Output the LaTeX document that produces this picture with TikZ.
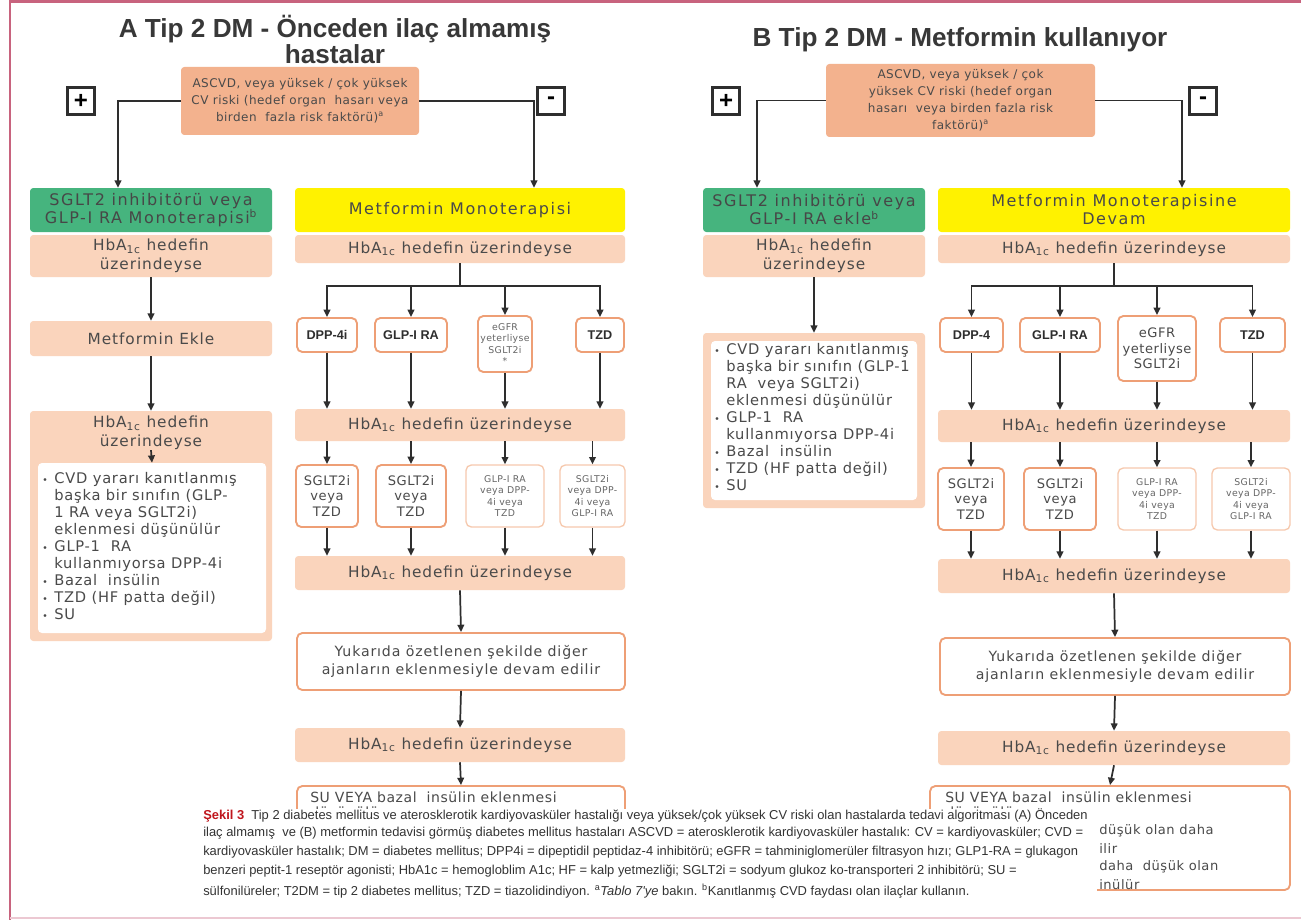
\documentclass[tikz,border=0pt]{standalone}
\usepackage{fontspec}
\setmainfont{DejaVu Sans}
\newfontfamily\boxf{DejaVu Sans}[LetterSpace=4]
\newfontfamily\hbf{DejaVu Sans}[LetterSpace=6]
\newfontfamily\widef{DejaVu Sans}[LetterSpace=10]
\newfontfamily\listf{DejaVu Sans}[LetterSpace=5]
\newfontfamily\headf{Liberation Sans}
\newfontfamily\capf{Liberation Sans}
\usetikzlibrary{arrows.meta}

\definecolor{framec}{HTML}{C8637E}
\definecolor{ascf}{HTML}{F3B28E}
\definecolor{hbfill}{HTML}{FAD4BC}
\definecolor{bord}{HTML}{EE9F76}
\definecolor{bordl}{HTML}{F6C9AE}
\definecolor{grnf}{HTML}{46B47E}
\definecolor{yelf}{HTML}{FFF200}
\definecolor{txt}{HTML}{4A4A4A}
\definecolor{lnc}{HTML}{2E2E2E}
\definecolor{capred}{HTML}{C0161D}
\definecolor{captxt}{HTML}{333333}

% box placed by its corners (pixel grid, y downwards)
\newcommand{\place}[7]{%
  \node[#2, minimum width={((#5)-(#3))*0.75pt}, minimum height={((#6)-(#4))*0.75pt}]
    (#1) at ({((#3)+(#5))/2},{((#4)+(#6))/2}) {#7};}
\newcommand{\blt}{{\fontsize{7}{7}\selectfont\textbullet}}
\newcommand{\hba}{HbA\textsubscript{1c}}

\begin{document}
\begin{tikzpicture}[x=0.75pt,y=-0.75pt,
  bx/.style={rectangle, rounded corners=2.5pt, inner sep=0pt, align=center, text=txt,
             font=\hbf\fontsize{11.5}{14.2}\selectfont},
  asc/.style={bx, fill=ascf, font=\boxf\fontsize{9}{12.8}\selectfont},
  hb/.style={bx, fill=hbfill},
  grn/.style={bx, fill=grnf, text=black!72, font=\widef\fontsize{12}{13.5}\selectfont},
  yel/.style={bx, fill=yelf, font=\widef\fontsize{12}{13.5}\selectfont},
  wb/.style={bx, fill=white, draw=bord, line width=1.4pt, rounded corners=4pt},
  wbl/.style={wb, draw=bordl, line width=1pt},
  wfill/.style={bx, fill=white, rounded corners=3pt},
  lbl/.style={font=\headf\bfseries\fontsize{9.5}{11}\selectfont, text=lnc},
  sm/.style={font=\boxf\fontsize{7}{8.4}\selectfont, text=black!60},
  mid/.style={font=\boxf\fontsize{9.8}{11.6}\selectfont},
  yuk/.style={font=\hbf\fontsize{10.6}{13.4}\selectfont},
  ln/.style={draw=lnc, line width=1.3pt},
  arr/.style={ln, -{Triangle[length=5.5pt,width=5pt]}},
  pm/.style={draw=lnc, line width=2pt, fill=white, minimum size=20pt, inner sep=0pt,
             font=\headf\bfseries\fontsize{18}{18}\selectfont},
  ttl/.style={font=\headf\bfseries\fontsize{19.6}{22}\selectfont, text=black!78},
  captext/.style={anchor=west, inner sep=0pt, font=\capf\fontsize{9.7}{11}\selectfont, text=captxt},
  txtl/.style={anchor=west, inner sep=0pt, text=txt, font=\boxf\fontsize{10.5}{13}\selectfont},
  frag/.style={txtl, font=\boxf\fontsize{9.8}{12}\selectfont},
  listtxt/.style={anchor=north west, inner sep=0pt, text=txt, align=left,
             font=\listf\fontsize{11}{12.8}\selectfont}
]
\useasboundingbox (0,0) rectangle (1301,920);
\fill[white] (0,0) rectangle (1301,920);

% page frame
\draw[framec, line width=2.2pt] (10,0) -- (10,920);
\draw[framec, line width=2pt] (10,1.5) -- (1301,1.5);
\draw[framec!35, line width=1pt] (10,918) -- (1301,918);

% ---------------- titles
\node[ttl] (tA1) at (335,29) {A Tip 2 DM - Önceden ilaç almamış};
\node[ttl] (tA2) at (335,54) {hastalar};
\node[ttl] (tB) at (960,40) {B Tip 2 DM - Metformin kullanıyor};

% ---------------- risk boxes and branches
\place{ascA}{asc}{181}{67}{419}{135}{ASCVD, veya yüksek / çok yüksek\\CV riski (hedef organ\ \ hasarı veya\\birden\ \ fazla risk faktörü)\textsuperscript{a}}
\place{ascB}{asc}{826}{64}{1095}{137}{ASCVD, veya yüksek / çok\\yüksek CV riski (hedef organ\\hasarı\ \ veya birden fazla risk\\faktörü)\textsuperscript{a}}

\node[pm] (plA) at (81,101) {+};
\node[pm] (miA) at (551,101) {-};
\node[pm] (plB) at (726,101) {+};
\node[pm] (miB) at (1203,101) {-};

\place{gA}{grn}{30}{188}{272}{232}{SGLT2 inhibitörü veya\\GLP-I RA Monoterapisi\textsuperscript{b}}
\place{yA}{yel}{295}{188}{625}{232}{Metformin Monoterapisi}
\place{gB}{grn}{703}{188}{925}{232}{SGLT2 inhibitörü veya\\GLP-I RA ekle\textsuperscript{b}}
\place{yB}{yel}{938}{188}{1290}{232}{Metformin Monoterapisine\\Devam}

\draw[arr] (ascA.west) -| (gA.north -| 118,0);
\draw[arr] (ascA.east) -| (yA.north -| 534,0);
\draw[arr] (ascB.west) -| (gB.north -| 757,0);
\draw[arr] (ascB.east) -| (yB.north -| 1182,0);

% ================= panel A, left column
\place{hAl1}{hb}{30}{235}{272}{277}{\hba\ hedefin\\üzerindeyse}
\place{mEk}{hb}{30}{321}{272}{356}{Metformin Ekle}
\place{hAl2}{hb}{30}{411}{272}{641}{}
\node[bx] (hAl2t) at (151,433) {\hba\ hedefin\\üzerindeyse};
\place{lstAbox}{wfill}{38}{463}{266}{633}{}
\node[listtxt] (lstA) at (42,471) {\begin{tabular}{@{}l@{\hspace{5pt}}l@{}}
\blt & CVD yararı kanıtlanmış\\
 & başka bir sınıfın (GLP-\\
 & 1 RA veya SGLT2i)\\
 & eklenmesi düşünülür\\
\blt & GLP-1\ \ RA\\
 & kullanmıyorsa DPP-4i\\
\blt & Bazal\ \ insülin\\
\blt & TZD (HF patta değil)\\
\blt & SU
\end{tabular}};
\draw[arr] (hAl1.south) -- (mEk.north);
\draw[arr] (mEk.south) -- (hAl2.north);
\draw[arr] (hAl2t.south) -- (lstAbox.north);

% ================= panel A, right column
\place{hAr1}{hb}{295}{235}{625}{263}{\hba\ hedefin üzerindeyse}
\place{dA}{wb,lbl}{297}{318}{357}{352}{DPP-4i}
\place{gpA}{wb,lbl}{375}{318}{447}{352}{GLP-I RA}
\place{eA}{wb,sm}{478}{316}{532}{372}{eGFR\\yeterliyse\\SGLT2i\\*}
\place{tA}{wb,lbl}{576}{318}{624}{352}{TZD}
\coordinate (brA) at (460,286);
\draw[ln] (hAr1.south) -- (brA);
\draw[arr] (brA) -| (dA.north);
\draw[arr] (brA) -| (tA.north);
\draw[arr] (gpA.north |- brA) -- (gpA.north);
\draw[arr] (eA.north |- brA) -- (eA.north);

\place{hAr2}{hb}{295}{409}{625}{441}{\hba\ hedefin üzerindeyse}
\foreach \n in {dA,gpA,eA,tA} \draw[arr] (\n.south) -- (\n.south |- hAr2.north);

\place{sA1}{wb,mid}{296}{465}{358}{527}{SGLT2i\\veya\\TZD}
\place{sA2}{wb,mid}{376}{465}{446}{527}{SGLT2i\\veya\\TZD}
\place{sA3}{wbl,sm}{466}{465}{544}{527}{GLP-I RA\\veya DPP-\\4i veya\\TZD}
\place{sA4}{wbl,sm}{560}{465}{625}{527}{SGLT2i\\veya DPP-\\4i veya\\GLP-I RA}
\foreach \n in {sA1,sA2,sA3,sA4} \draw[arr] (\n.north |- hAr2.south) -- (\n.north);

\place{hAr3}{hb}{295}{556}{625}{590}{\hba\ hedefin üzerindeyse}
\foreach \n in {sA1,sA2,sA3,sA4} \draw[arr] (\n.south) -- (\n.south |- hAr3.north);

\place{yukA}{wb,yuk}{297}{633}{625}{690}{Yukarıda özetlenen şekilde diğer\\ajanların eklenmesiyle devam edilir}
\place{hAr4}{hb}{295}{728}{625}{762}{\hba\ hedefin üzerindeyse}
\place{suA}{wb}{297}{786}{625}{905}{}
\node[txtl] (suAt1) at (310,797) {SU VEYA bazal\ \ insülin eklenmesi};
\draw[arr] (hAr3.south) -- (yukA.north);
\draw[arr] (yukA.south) -- (hAr4.north);
\draw[arr] (hAr4.south) -- (suA.north);

% ================= panel B, left column
\place{hBl1}{hb}{703}{235}{925}{277}{\hba\ hedefin\\üzerindeyse}
\place{hBl2}{hb}{703}{333}{925}{508}{}
\place{lstBbox}{wfill}{711}{341}{917}{500}{}
\node[listtxt] (lstB) at (714,342) {\begin{tabular}{@{}l@{\hspace{5pt}}l@{}}
\blt & CVD yararı kanıtlanmış\\
 & başka bir sınıfın (GLP-1\\
 & RA\ \ veya SGLT2i)\\
 & eklenmesi düşünülür\\
\blt & GLP-1\ \ RA\\
 & kullanmıyorsa DPP-4i\\
\blt & Bazal\ \ insülin\\
\blt & TZD (HF patta değil)\\
\blt & SU
\end{tabular}};
\draw[arr] (hBl1.south) -- (hBl2.north);

% ================= panel B, right column
\place{hBr1}{hb}{938}{235}{1290}{263}{\hba\ hedefin üzerindeyse}
\place{dB}{wb,lbl}{940}{318}{1003}{352}{DPP-4}
\place{gpB}{wb,lbl}{1020}{318}{1100}{352}{GLP-I RA}
\place{eB}{wb,mid}{1118}{316}{1196}{381}{eGFR\\yeterliyse\\SGLT2i}
\place{tB}{wb,lbl}{1220}{318}{1285}{352}{TZD}
\coordinate (brB) at (1114,286);
\draw[ln] (hBr1.south) -- (brB);
\draw[arr] (brB) -| (dB.north);
\draw[arr] (brB) -| (tB.north);
\draw[arr] (gpB.north |- brB) -- (gpB.north);
\draw[arr] (eB.north |- brB) -- (eB.north);

\place{hBr2}{hb}{938}{410}{1290}{442}{\hba\ hedefin üzerindeyse}
\foreach \n in {dB,gpB,eB,tB} \draw[arr] (\n.south) -- (\n.south |- hBr2.north);

\place{sB1}{wb,mid}{938}{468}{1004}{530}{SGLT2i\\veya\\TZD}
\place{sB2}{wb,mid}{1024}{468}{1096}{530}{SGLT2i\\veya\\TZD}
\place{sB3}{wbl,sm}{1118}{468}{1196}{530}{GLP-I RA\\veya DPP-\\4i veya\\TZD}
\place{sB4}{wbl,sm}{1212}{468}{1290}{530}{SGLT2i\\veya DPP-\\4i veya\\GLP-I RA}
\foreach \n in {sB1,sB2,sB3,sB4} \draw[arr] (\n.north |- hBr2.south) -- (\n.north);

\place{hBr3}{hb}{938}{559}{1290}{593}{\hba\ hedefin üzerindeyse}
\foreach \n in {sB1,sB2,sB3,sB4} \draw[arr] (\n.south) -- (\n.south |- hBr3.north);

\place{yukB}{wb,yuk}{940}{638}{1290}{695}{Yukarıda özetlenen şekilde diğer\\ajanların eklenmesiyle devam edilir}
\place{hBr4}{hb}{938}{731}{1290}{765}{\hba\ hedefin üzerindeyse}
\place{suB}{wb}{930}{786}{1290}{890}{}
\node[txtl] (suBt1) at (945,797) {SU VEYA bazal\ \ insülin eklenmesi};
\node[frag] (suBf1) at (1099,831) {düşük olan daha};
\node[frag] (suBf2) at (1099,849) {ilir};
\node[frag] (suBf3) at (1099,867) {daha\ \ düşük olan};
\node[frag] (suBf4) at (1099,885) {inülür};
\draw[arr] (hBr3.south) -- (yukB.north);
\draw[arr] (yukB.south) -- (hBr4.north);
\draw[arr] (hBr4.south) -- (suB.north);

% second line of both bottom boxes, cut off by the caption panel
\begin{scope}
  \clip (0,0) rectangle (1301,809);
  \node[txtl] (suAt2) at (310,814) {düşünülür;};
  \node[txtl] (suBt2) at (945,814) {düşünülür;};
\end{scope}

% ================= caption panel
\place{capbox}{fill=white, inner sep=0pt}{190}{809}{1097}{913}{}
\node[captext] (c1) at (203,815) {{\color{capred}\bfseries Şekil 3}\ \ Tip 2 diabetes mellitus ve aterosklerotik kardiyovasküler hastalığı veya yüksek/çok yüksek CV riski olan hastalarda tedavi algoritması (A) Önceden};
\node[captext] (c2) at (203,833) {ilaç almamış\ \ ve (B) metformin tedavisi görmüş diabetes mellitus hastaları ASCVD = aterosklerotik kardiyovasküler hastalık: CV = kardiyovasküler; CVD =};
\node[captext] (c3) at (203,852) {kardiyovasküler hastalık; DM = diabetes mellitus; DPP4i = dipeptidil peptidaz-4 inhibitörü; eGFR = tahminiglomerüler filtrasyon hızı; GLP1-RA = glukagon};
\node[captext] (c4) at (203,871) {benzeri peptit-1 reseptör agonisti; HbA1c = hemogloblim A1c; HF = kalp yetmezliği; SGLT2i = sodyum glukoz ko-transporteri 2 inhibitörü; SU =};
\node[captext] (c5) at (203,891) {sülfonilüreler; T2DM = tip 2 diabetes mellitus; TZD = tiazolidindiyon. \textsuperscript{a}\textit{Tablo 7'ye} bakın. \textsuperscript{b}Kanıtlanmış CVD faydası olan ilaçlar kullanın.};
\end{tikzpicture}
\end{document}
